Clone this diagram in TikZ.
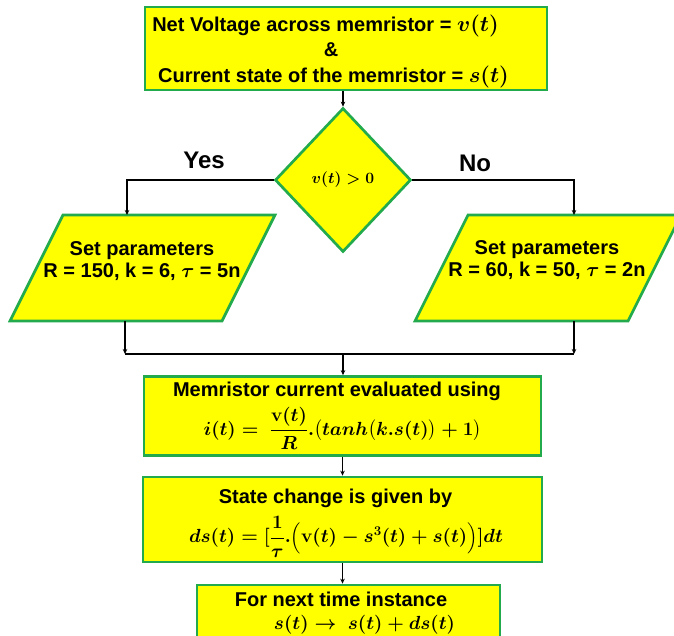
\RequirePackage{fix-cm}
\documentclass[tikz,border=0pt]{standalone}
\usepackage{amsmath,bm}
\usepackage[no-math]{fontspec}
\setmainfont{Liberation Sans}
\usetikzlibrary{shapes.geometric,arrows.meta}
\definecolor{boxgreen}{RGB}{34,170,76}
\definecolor{boxyellow}{RGB}{255,255,0}
\newcommand{\mfs}{\fontsize{19}{22}\selectfont}
\newcommand{\tfs}{\fontsize{22}{25}\selectfont}
\begin{document}
\begin{tikzpicture}[x=1pt,y=-1pt,
  shp/.style={draw=boxgreen, fill=boxyellow, line width=2.7pt},
  box/.style={shp, inner sep=0pt, align=center, font=\bfseries\boldmath\fontsize{20}{23.5}\selectfont},
  txt/.style={inner sep=0pt, align=center, font=\bfseries\boldmath\fontsize{20}{22.5}\selectfont},
  conn/.style={line width=1.2pt, draw=black},
  arr/.style={conn, -{Stealth[length=5pt,width=4.5pt]}}]
\clip (0,0) rectangle (674,635);
\useasboundingbox (0,0) rectangle (674,635);

\node[box, minimum width=402pt, minimum height=83pt] (top) at (346,48.5) {};
\node[txt, font=\bfseries\boldmath\fontsize{20}{25.5}\selectfont] (topt) at (331,51)
  {Net Voltage across memristor = {\tfs$\bm{v(t)}$}\hspace*{11pt}\\ \&\\ \hspace*{5pt}Current state of the memristor = {\tfs$\bm{s(t)}$}};

\node[box, diamond, minimum width=136pt, minimum height=144pt, font=\boldmath\fontsize{15.7}{18}\selectfont] (d) at (343,180) {$\bm{v(t)>0}$};

\node[font=\bfseries\fontsize{24}{28}\selectfont, inner sep=0pt] (yes) at (204,160) {Yes};
\node[font=\bfseries\fontsize{24}{28}\selectfont, inner sep=0pt] (no) at (475,163) {No};

% parallelograms
\draw[shp] (10,321) -- (63,215) -- (275,215) -- (222,321) -- cycle;
\draw[shp] (415,321) -- (468,215) -- (681,215) -- (628,321) -- cycle;
\node[txt] (lt) at (142,261) {Set parameters\\R = 150, k = 6, $\tau$ = 5n};
\node[txt] (rt) at (547,260) {Set parameters\\R = 60, k = 50, $\tau$ = 2n};

\coordinate (lin) at (127,215);
\coordinate (rin) at (574,215);
\coordinate (lout) at (125,321);
\coordinate (rout) at (574,321);
\coordinate (jl) at (125,354);
\coordinate (jr) at (574,354);
\coordinate (jm) at (343,354);

\node[box, minimum width=397pt, minimum height=79pt] (b3) at (342.5,416)
  {Memristor current evaluated using\hspace*{11pt}\\[5pt]
   {\mfs$\displaystyle \bm{i(t) =}\ \frac{\mathbf{v}\bm{(t)}}{\bm{R}}\bm{.}\bigl(\bm{tanh}\bigl(\bm{k.s(t)}\bigr)\bm{+1}\bigr)$}};

\node[box, minimum width=399pt, minimum height=85pt] (b4) at (342.5,519.5) {};
\node[txt] (b4t) at (342.5,523)
  {State change is given by\hspace*{14pt}\\[8pt]
   \hspace*{7pt}{\mfs$\displaystyle \bm{ds(t) =} [\frac{\mathbf{1}}{\unboldmath\tau}\bm{.}\Bigl(\mathbf{v}\bm{(t) - s^3(t) + s(t)}\Bigr)]\bm{dt}$}};

\node[box, minimum width=303pt, minimum height=56pt] (b5) at (348.5,613)
  {For next time instance\hspace*{15pt}\\ \hspace*{32pt}{\mfs$\bm{s(t) \to\ s(t) + ds(t)}$}};

% connectors
\draw[arr] (top.south -| d.north) -- (d.north);
\draw[arr] (d.west) -| (lin);
\draw[arr] (d.east) -| (rin);
\draw[arr] (lout) -- (jl);
\draw[arr] (rout) -- (jr);
\draw[conn] (jl) -- (jr);
\draw[arr] (jm) -- (b3.north -| jm);
\draw[arr] (b3.south) -- (b4.north);
\draw[arr] (b4.south) -- (b4.south |- b5.north);
\end{tikzpicture}
\end{document}
